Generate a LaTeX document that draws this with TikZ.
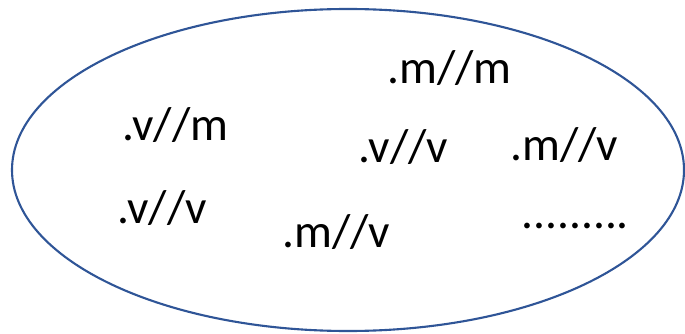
\documentclass[tikz,border=0pt]{standalone}
\usepackage{fontspec}
\setmainfont{Carlito}
\usepackage{xcolor}
\usetikzlibrary{positioning}

\definecolor{setblue}{HTML}{2F5597}

\begin{document}
\begin{tikzpicture}[
  x=0.02cm, y=-0.02cm,
  setline/.style={draw=setblue, line width=1.2pt},
  elem/.style={anchor=base west, inner sep=0pt, font=\fontsize{27}{31}\selectfont}
]
  \useasboundingbox (0,0) rectangle (685,334);
  % the set
  \draw[setline] (348,170) ellipse [x radius=336, y radius=161];
  % its elements
  \node[elem] (mm)  at (387,84)  {.m//m};
  \node[elem] (vm)  at (122,141) {.v//m};
  \node[elem] (vv)  at (358,162) {.v//v};
  \node[elem] (mv)  at (510,160) {.m//v};
  \node[elem] (vv2) at (117,223) {.v//v};
  \node[elem] (mv2) at (282,247) {.m//v};
  \node[elem] (dots) at (521,228) {.........};
\end{tikzpicture}
\end{document}
